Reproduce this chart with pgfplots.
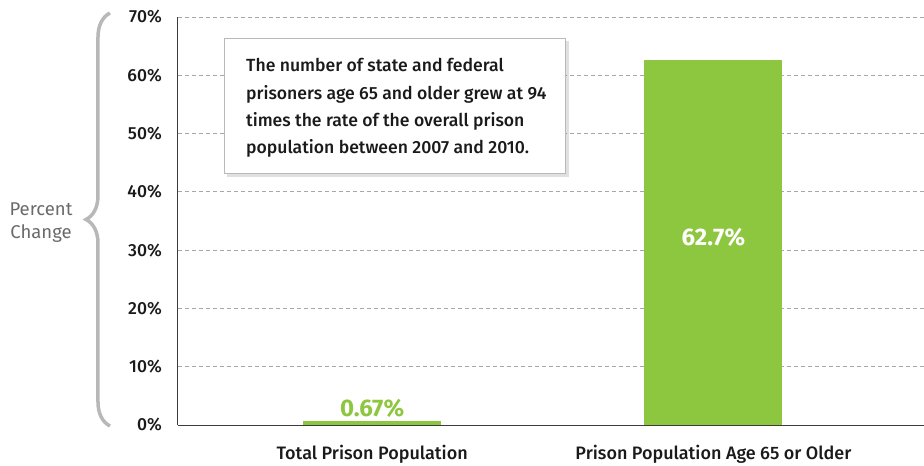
\documentclass[border=0pt]{standalone}
\usepackage{pgfplots}
\pgfplotsset{compat=1.18}
\usepackage{fontspec}
\setmainfont{Fira Sans}
\newfontfamily\firamed{Fira Sans Medium}
\usetikzlibrary{decorations.pathreplacing,shadows}
\definecolor{barg}{HTML}{8DC63F}
\definecolor{txt}{HTML}{1A1A1A}
\definecolor{gridc}{HTML}{A8A8A8}
\definecolor{bracec}{HTML}{B8B8B8}
\definecolor{labc}{HTML}{6A6A6A}
\begin{document}
\begin{tikzpicture}[x=1pt,y=1pt]
\useasboundingbox (-178,-41) rectangle (746,425);
\begin{axis}[
  at={(0,0)}, anchor=south west,
  width=746pt, height=408pt, scale only axis,
  xmin=-0.569, xmax=1.617, ymin=0, ymax=70,
  axis x line*=bottom, axis y line*=left,
  axis line style={draw=txt!85, line width=1pt},
  ytick={0,10,20,30,40,50,60,70},
  yticklabel={\pgfmathprintnumber{\tick}\%},
  /pgf/number format/assume math mode=true,
  yticklabel style={font=\fontsize{17.5}{20}\selectfont\firamed, text=txt, inner sep=0pt, xshift=-16pt},
  xtick={0,1},
  xticklabels={Total Prison Population, Prison Population Age 65 or Older},
  xticklabel style={font=\fontsize{18}{20}\selectfont\firamed, text=txt, inner sep=0pt, yshift=-20pt},
  major tick length=0pt,
  ymajorgrids,
  grid style={gridc, dash pattern=on 4pt off 3pt, line width=0.8pt},
  ybar, bar width=138pt,
  clip=false,
]
\addplot[fill=barg, draw=none, bar shift=0pt,
  nodes near coords={\pgfmathprintnumber[fixed,precision=2]{\pgfplotspointmeta}\%},
  every node near coord/.append style={font=\fontsize{24}{26}\selectfont\bfseries, text=barg, anchor=south, yshift=0pt}]
  coordinates {(0,0.67)};
\addplot[fill=barg, draw=none, bar shift=0pt,
  nodes near coords={\pgfmathprintnumber[fixed,precision=1]{\pgfplotspointmeta}\%},
  every node near coord/.append style={font=\fontsize{24}{26}\selectfont\bfseries, text=white, anchor=center, yshift=-178pt}]
  coordinates {(1,62.7)};
\end{axis}
% annotation box
\fill[black, opacity=0.12] (49,384) rectangle (391,248);
\filldraw[fill=white, draw=gray!55, line width=0.7pt] (46,387) rectangle (387,252);
\begin{scope}[every node/.style={anchor=base west, inner sep=0pt, font=\fontsize{17.6}{22}\selectfont\firamed, text=txt}]
\node at (68,353) {The number of state and federal};
\node at (68,325.7) {prisoners age 65 and older grew at 94};
\node at (68,298.4) {times the rate of the overall prison};
\node at (68,271.1) {population between 2007 and 2010.};
\end{scope}
% brace
\draw[bracec, line width=3.5pt, decorate, decoration={brace, amplitude=24pt, aspect=0.5}] (-68,-1) -- (-68,412);
\node[align=center, text=labc, font=\fontsize{18.5}{23}\selectfont, inner sep=0pt] at (-137,202) {Percent\\Change};
\end{tikzpicture}
\end{document}
